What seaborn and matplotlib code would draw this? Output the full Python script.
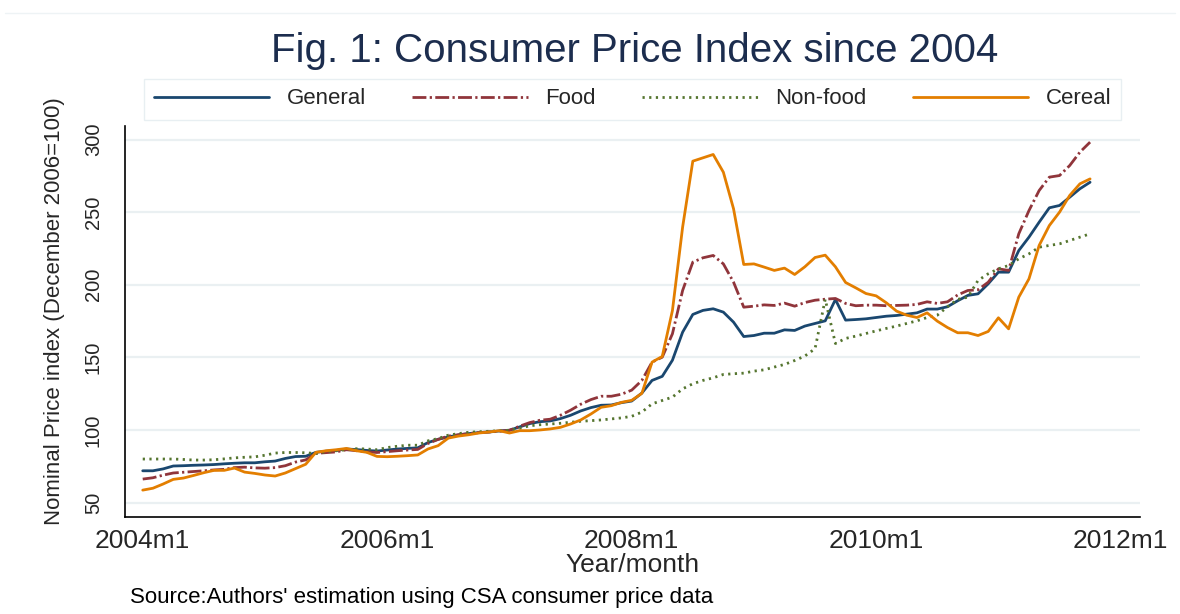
import numpy as np
import pandas as pd
import matplotlib
matplotlib.use("Agg")
import matplotlib.pyplot as plt
import seaborn as sns

# monthly CPI, 2004m1 .. 2011m10 (December 2006 = 100)
general = [72.0, 72.0, 73.3, 75.3, 75.5, 75.8, 76.0, 76.3, 76.8, 77.2, 77.5, 77.5,
           78.2, 78.7, 80.5, 81.8, 82.0, 84.7, 85.5, 86.0, 87.0, 86.6, 86.0, 85.6,
           86.3, 87.0, 87.4, 87.8, 91.4, 93.7, 95.3, 96.7, 97.6, 98.3, 98.7, 99.4,
           99.9, 102.2, 104.5, 105.8, 106.3, 107.9, 110.2, 113.2, 115.5, 117.1, 117.3, 118.9,
           120.0, 125.5, 134.2, 137.0, 148.1, 167.4, 179.6, 182.4, 183.5, 181.2, 174.3, 164.4,
           165.1, 166.7, 166.7, 169.0, 168.6, 171.6, 173.4, 175.2, 189.9, 175.7, 176.1, 176.6,
           177.5, 178.4, 178.9, 179.8, 180.7, 183.3, 183.3, 184.9, 189.0, 192.7, 193.8, 200.7,
           208.7, 208.7, 223.6, 232.8, 243.1, 253.0, 254.6, 260.3, 266.1, 270.6]
food = [66.3, 67.2, 69.0, 70.5, 71.0, 71.5, 72.0, 72.6, 73.0, 74.2, 74.5, 74.0,
        73.8, 74.2, 75.5, 78.0, 79.5, 84.0, 84.5, 85.0, 86.5, 85.8, 85.0, 84.6,
        85.2, 85.8, 86.3, 86.7, 90.8, 93.6, 95.9, 96.8, 97.6, 98.3, 98.7, 99.2,
        99.9, 102.7, 105.2, 106.8, 107.5, 110.2, 113.7, 117.8, 121.0, 123.3, 123.3, 124.7,
        127.5, 134.2, 146.8, 150.2, 166.3, 196.1, 215.6, 218.6, 220.2, 214.4, 201.8, 184.6,
        185.3, 186.2, 185.8, 187.4, 185.3, 187.8, 189.4, 190.1, 190.6, 187.2, 185.6, 186.0,
        186.0, 185.6, 185.8, 186.0, 186.5, 188.3, 187.2, 188.3, 193.0, 196.1, 196.6, 201.8,
        211.0, 209.9, 235.1, 251.1, 264.9, 274.1, 275.2, 282.1, 291.3, 298.2]
nonfood = [80.1, 80.1, 80.1, 80.1, 79.8, 79.4, 79.4, 79.6, 80.2, 80.9, 81.3, 81.6,
           82.7, 84.2, 84.6, 84.6, 84.4, 83.9, 85.1, 85.8, 86.5, 87.2, 87.0, 86.5,
           88.0, 88.9, 89.6, 89.6, 92.6, 94.2, 96.5, 97.6, 98.5, 98.9, 99.2, 99.6,
           99.9, 101.2, 103.0, 103.7, 104.2, 104.7, 105.4, 106.1, 106.5, 107.0, 107.7, 108.4,
           109.5, 112.4, 118.1, 120.4, 122.7, 128.4, 131.9, 134.2, 136.0, 138.3, 138.8, 139.2,
           140.6, 141.5, 143.4, 145.2, 147.9, 151.0, 156.0, 190.0, 159.6, 163.1, 164.7, 166.5,
           168.3, 170.0, 171.6, 173.4, 175.2, 177.5, 179.1, 184.9, 190.0, 191.5, 203.0, 207.6,
           211.0, 213.3, 217.9, 221.3, 225.9, 227.1, 228.2, 230.5, 232.8, 235.1]
cereal = [58.7, 60.0, 62.9, 66.1, 67.0, 68.8, 70.7, 72.3, 72.3, 73.9, 71.1, 70.2,
          69.1, 68.4, 70.5, 73.5, 76.5, 84.7, 85.8, 86.5, 87.4, 85.8, 84.7, 81.9,
          81.7, 82.0, 82.4, 82.9, 87.0, 89.3, 94.5, 95.9, 96.8, 98.0, 98.7, 99.6,
          98.0, 99.6, 99.6, 100.1, 100.8, 101.9, 104.2, 107.0, 111.1, 115.7, 116.8, 119.1,
          120.5, 125.3, 146.8, 150.7, 182.3, 239.7, 285.1, 287.4, 289.7, 277.5, 252.3, 214.0,
          214.4, 212.2, 209.9, 211.5, 207.1, 212.4, 218.8, 220.4, 212.4, 201.6, 197.9, 194.0,
          192.4, 187.6, 181.9, 179.1, 177.5, 180.7, 175.0, 170.6, 167.0, 167.0, 165.1, 167.9,
          177.3, 169.7, 191.5, 204.1, 227.1, 240.8, 250.0, 261.5, 269.5, 272.9]

series_names = ["General", "Food", "Non-food", "Cereal"]
tick_pos = [0, 24, 48, 72, 96]
tick_labels = ["2004m1", "2006m1", "2008m1", "2010m1", "2012m1"]
y_ticks = [50, 100, 150, 200, 250, 300]

month = np.arange(len(general))
df = pd.concat([pd.DataFrame({"month": month, "cpi": v, "series": n})
                for n, v in zip(series_names, [general, food, nonfood, cereal])])

palette = {"General": "#1a476f", "Food": "#90353b", "Non-food": "#55752f", "Cereal": "#e37e00"}
dashes = {"General": "", "Food": (5, 1.2, 0.8, 1.2), "Non-food": (0.8, 1.6), "Cereal": ""}

sns.set_style("white")
plt.rcParams["font.family"] = ["Liberation Sans", "DejaVu Sans"]

fig = plt.figure(figsize=(11.8, 6.14), dpi=100)
W, H = 1180, 614
ax = fig.add_axes([125 / W, 1 - 517 / H, (1140 - 125) / W, (517 - 126) / H])

sns.lineplot(data=df, x="month", y="cpi", hue="series", style="series",
             palette=palette, dashes=dashes, linewidth=2.0, ax=ax, legend=True)

handles, labels = ax.get_legend_handles_labels()
ax.get_legend().remove()

ax.set_xlim(-1.74, 97.9)
ax.set_ylim(40.2, 309.3)
ax.set_xticks(tick_pos)
ax.set_xticklabels(tick_labels, fontsize=19)
ax.set_yticks(y_ticks)
ax.set_yticklabels([str(t) for t in y_ticks], fontsize=14.5, rotation=90, va="center")
ax.tick_params(axis="x", direction="out", length=6, width=1.2, color="black", pad=3)
ax.tick_params(axis="y", direction="out", length=10, width=1.2, color="#555555", pad=6)
ax.yaxis.grid(True, color="#eaf0f2", linewidth=1.6)
ax.xaxis.grid(False)
ax.set_axisbelow(True)
for s in ["top", "right"]:
    ax.spines[s].set_visible(False)
for s in ["left", "bottom"]:
    ax.spines[s].set_color("black")
    ax.spines[s].set_linewidth(1.2)

ax.set_xlabel("Year/month", fontsize=19, labelpad=0)
ax.set_ylabel("Nominal Price index (December 2006=100)", fontsize=16)
ax.yaxis.set_label_coords(-0.059, 0.527)

fig.text(635 / W, 1 - 51 / H, "Fig. 1: Consumer Price Index since 2004",
         ha="center", va="center", fontsize=29, color="#1c2d4e")
fig.text(130 / W, 1 - 597 / H, "Source:Authors' estimation using CSA consumer price data",
         ha="left", va="center", fontsize=16, color="black")

leg = fig.legend(handles, labels, ncol=4, loc="center",
                 bbox_to_anchor=(632.5 / W, 1 - 99 / H),
                 fontsize=16, handlelength=5.2, handletextpad=0.77, columnspacing=2.1,
                 frameon=True, fancybox=False, borderpad=0.45)
leg.get_frame().set_edgecolor("#e3ecef")
leg.get_frame().set_linewidth(1.0)
for h in leg.get_lines():
    h.set_linewidth(2.0)

fig.add_artist(plt.Line2D([5 / W, 1175 / W], [1 - 13 / H, 1 - 13 / H],
                          transform=fig.transFigure, color="#eef3f5", linewidth=1))

fig.savefig("out.png", dpi=100, facecolor="white")
